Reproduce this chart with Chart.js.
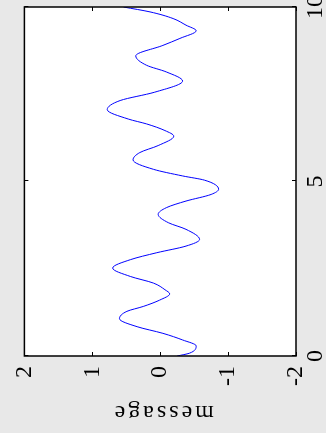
<!DOCTYPE html>
<html>
<head>
<meta charset="utf-8">
<script src="https://cdn.jsdelivr.net/npm/chart.js@4.4.1/dist/chart.umd.min.js"></script>
<style>
  html, body { margin: 0; padding: 0; width: 326px; height: 433px; overflow: hidden; background: #e8e8e8; }
  #wrap { position: absolute; left: 0; top: 0; width: 450px; height: 326px;
          transform-origin: 0 0; transform: translate(0px, 433px) rotate(-90deg); }
  canvas { display: block; }
</style>
</head>
<body>
<div id="wrap"><canvas id="c" width="450" height="326"></canvas></div>
<script>
// time axis samples
const timeValues = [0, 0.08, 0.29, 0.46, 0.65, 0.84, 1.07, 1.28, 1.42, 1.60, 1.78, 1.90, 2.09, 2.28, 2.52, 2.76, 2.96, 3.15, 3.34, 3.63, 3.82, 4.06, 4.25, 4.44, 4.63, 4.78, 5.04, 5.16, 5.35, 5.62, 5.83, 6.03, 6.30, 6.46, 6.65, 6.79, 7.06, 7.32, 7.56, 7.88, 8.14, 8.33, 8.60, 8.90, 9.10, 9.32, 9.48, 9.67, 9.86, 10.0];
// message signal values
const messageValues = [-0.25, -0.43, -0.53, -0.33, -0.04, 0.34, 0.60, 0.49, 0.25, 0.01, -0.14, -0.07, 0.10, 0.44, 0.70, 0.44, 0.05, -0.38, -0.58, -0.38, -0.12, 0.03, -0.09, -0.38, -0.75, -0.86, -0.65, -0.33, 0.10, 0.40, 0.30, 0.03, -0.20, -0.07, 0.20, 0.47, 0.78, 0.59, 0.08, -0.33, -0.09, 0.20, 0.36, -0.04, -0.29, -0.53, -0.38, -0.19, 0.15, 0.54];
// tick labels
const xTicks = [0, 5, 10];
const yTicks = [-2, -1, 0, 1, 2];
const yLabel = 'message';

const points = timeValues.map((t, i) => ({ x: t, y: messageValues[i] }));
const FONT = 'Liberation Serif, Times New Roman, serif';

const boxPlugin = {
  id: 'matlabBox',
  beforeDatasetsDraw(chart) {
    const { ctx, chartArea: a } = chart;
    ctx.save();
    ctx.fillStyle = '#ffffff';
    ctx.fillRect(a.left, a.top, a.right - a.left, a.bottom - a.top);
    ctx.restore();
  },
  afterDraw(chart) {
    const { ctx, chartArea: a, scales } = chart;
    const tl = 4;
    ctx.save();
    ctx.strokeStyle = '#000000';
    ctx.lineWidth = 1;
    ctx.beginPath();
    xTicks.forEach(v => {
      const px = Math.round(scales.x.getPixelForValue(v)) + 0.5;
      ctx.moveTo(px, a.bottom); ctx.lineTo(px, a.bottom - tl);
      ctx.moveTo(px, a.top); ctx.lineTo(px, a.top + tl);
    });
    yTicks.forEach(v => {
      const py = Math.round(scales.y.getPixelForValue(v)) + 0.5;
      ctx.moveTo(a.left, py); ctx.lineTo(a.left + tl, py);
      ctx.moveTo(a.right, py); ctx.lineTo(a.right - tl, py);
    });
    ctx.stroke();
    ctx.lineWidth = 1.5;
    ctx.strokeRect(a.left, a.top, a.right - a.left, a.bottom - a.top);
    // axis title
    ctx.fillStyle = '#000000';
    ctx.font = '24px ' + FONT;
    ctx.textAlign = 'center';
    ctx.textBaseline = 'alphabetic';
    try { ctx.letterSpacing = '3px'; } catch (e) {}
    ctx.translate(27, (a.top + a.bottom) / 2 + 4);
    ctx.rotate(-Math.PI / 2);
    ctx.fillText(yLabel, 1.5, 0);
    ctx.restore();
  }
};

new Chart(document.getElementById('c'), {
  type: 'line',
  data: {
    datasets: [{
      data: points,
      borderColor: '#0000ff',
      borderWidth: 1,
      pointRadius: 0,
      fill: false,
      cubicInterpolationMode: 'monotone'
    }]
  },
  options: {
    responsive: false,
    animation: false,
    devicePixelRatio: 1,
    layout: { padding: { top: 20, right: 24, left: 0, bottom: 0 } },
    plugins: { legend: { display: false }, tooltip: { enabled: false } },
    scales: {
      x: {
        type: 'linear', min: 0, max: 10,
        grid: { display: false, drawTicks: false },
        border: { display: false },
        afterBuildTicks(s) { s.ticks = xTicks.map(v => ({ value: v })); },
        afterFit(s) { s.height = 30; },
        ticks: { color: '#000', padding: 5, maxRotation: 0, font: { family: FONT, size: 24 } }
      },
      y: {
        type: 'linear', min: -2, max: 2,
        grid: { display: false, drawTicks: false },
        border: { display: false },
        afterBuildTicks(s) { s.ticks = yTicks.map(v => ({ value: v })); },
        afterFit(s) { s.width = 77; },
        ticks: { color: '#000', padding: 10, font: { family: FONT, size: 24 } }
      }
    }
  },
  plugins: [boxPlugin]
});
</script>
</body>
</html>
